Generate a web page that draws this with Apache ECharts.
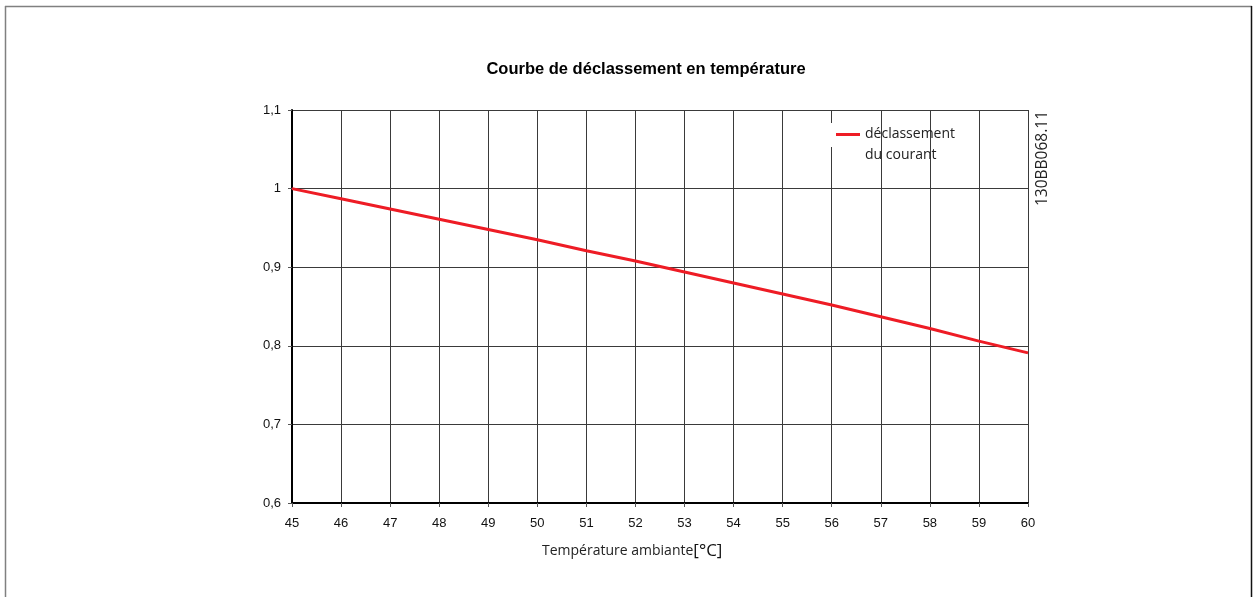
<!DOCTYPE html>
<html>
<head>
<meta charset="utf-8">
<script src="https://cdn.jsdelivr.net/npm/echarts@6/dist/echarts.min.js"></script>
<style>
  html, body { margin: 0; padding: 0; background: #fff; }
  #chart { width: 1253px; height: 597px; }
</style>
</head>
<body>
<div id="chart"></div>
<script>
// Ambient temperature (°C) and the matching current derating factor
const temperatures = [45, 46, 47, 48, 49, 50, 51, 52, 53, 54, 55, 56, 57, 58, 59, 60];
const derating = [1.000, 0.987, 0.974, 0.961, 0.948, 0.935, 0.921, 0.908, 0.894, 0.880, 0.866, 0.852, 0.837, 0.822, 0.806, 0.791];
const xTicks = { min: 45, max: 60, step: 1 };
const yTicks = { min: 0.6, max: 1.1, step: 0.1 };
const seriesName = 'déclassement\ndu courant';
const titleText = 'Courbe de déclassement en température';
const xAxisName = 'Température ambiante';
const drawingRef = '130BB068.11';

const chart = echarts.init(document.getElementById('chart'), null, { renderer: 'canvas' });

const points = temperatures.map((t, i) => [t, derating[i]]);

chart.setOption({
  animation: false,
  backgroundColor: '#ffffff',
  title: {
    text: titleText,
    left: 641,
    top: 56,
    textAlign: 'center',
    textStyle: { fontFamily: 'Liberation Sans, Arial, sans-serif', fontSize: 16.5, fontWeight: 'bold', color: '#000' }
  },
  legend: {
    data: [{ name: seriesName }],
    left: 836,
    top: 124,
    orient: 'vertical',
    padding: 0,
    itemWidth: 24,
    itemHeight: 24,
    // marker bar sits level with the first text line
    icon: 'path://M0,0H24V3H0Z M0,23.9H0.05V24H0Z',
    textStyle: { fontFamily: 'Open Sans, sans-serif', fontSize: 14, color: '#222', lineHeight: 21, padding: [0, 0, 0, 0] }
  },
  grid: { left: 292, right: 225, top: 110, bottom: 94, containLabel: false },
  xAxis: {
    type: 'value',
    min: xTicks.min,
    max: xTicks.max,
    interval: xTicks.step,
    axisLine: { show: true, lineStyle: { color: '#000', width: 2 } },
    axisTick: { show: true, length: 4, lineStyle: { color: '#555' } },
    axisLabel: { margin: 14, fontFamily: 'Liberation Sans, Arial, sans-serif', fontSize: 13, color: '#111' },
    splitLine: { show: true, lineStyle: { color: '#3a3a3a', width: 1 } }
  },
  yAxis: {
    type: 'value',
    min: yTicks.min,
    max: yTicks.max,
    interval: yTicks.step,
    axisLine: { show: true, lineStyle: { color: '#000', width: 2 } },
    axisTick: { show: true, length: 4, lineStyle: { color: '#555' } },
    axisLabel: {
      margin: 11,
      fontFamily: 'Liberation Sans, Arial, sans-serif',
      fontSize: 13,
      color: '#111',
      formatter: v => (Math.round(v * 10) / 10).toString().replace('.', ',')
    },
    splitLine: { show: true, lineStyle: { color: '#3a3a3a', width: 1 } }
  },
  series: [{
    name: seriesName,
    type: 'line',
    data: points,
    symbol: 'none',
    color: '#ee1c25',
    lineStyle: { color: '#ee1c25', width: 3 },
    z: 5
  }],
  graphic: [
    // page frame
    { type: 'line', shape: { x1: 5, y1: 6.5, x2: 1252, y2: 6.5 }, style: { stroke: '#808080', lineWidth: 1.5 } },
    { type: 'line', shape: { x1: 5.5, y1: 6, x2: 5.5, y2: 597 }, style: { stroke: '#808080', lineWidth: 1.5 } },
    { type: 'line', shape: { x1: 1251.5, y1: 6, x2: 1251.5, y2: 597 }, style: { stroke: '#111', lineWidth: 1.5 } },
    // gap in the grid behind the legend marker
    { type: 'rect', shape: { x: 828, y: 123, width: 7, height: 24 }, style: { fill: '#fff' }, z: 1 },
    // x axis name with unit
    {
      type: 'text', left: 542, top: 543,
      style: {
        text: '{a|' + xAxisName + '}{b|[°C]}',
        rich: {
          a: { fontFamily: 'Open Sans, sans-serif', fontSize: 14, fill: '#222' },
          b: { fontFamily: 'Open Sans, sans-serif', fontSize: 17, fill: '#111' }
        }
      }
    },
    // drawing reference, rotated
    {
      type: 'text', x: 1035, y: 206, rotation: Math.PI / 2,
      style: { text: drawingRef, fontFamily: 'Open Sans, sans-serif', fontSize: 15.5, fill: '#222', textVerticalAlign: 'top' }
    }
  ]
});
</script>
</body>
</html>
